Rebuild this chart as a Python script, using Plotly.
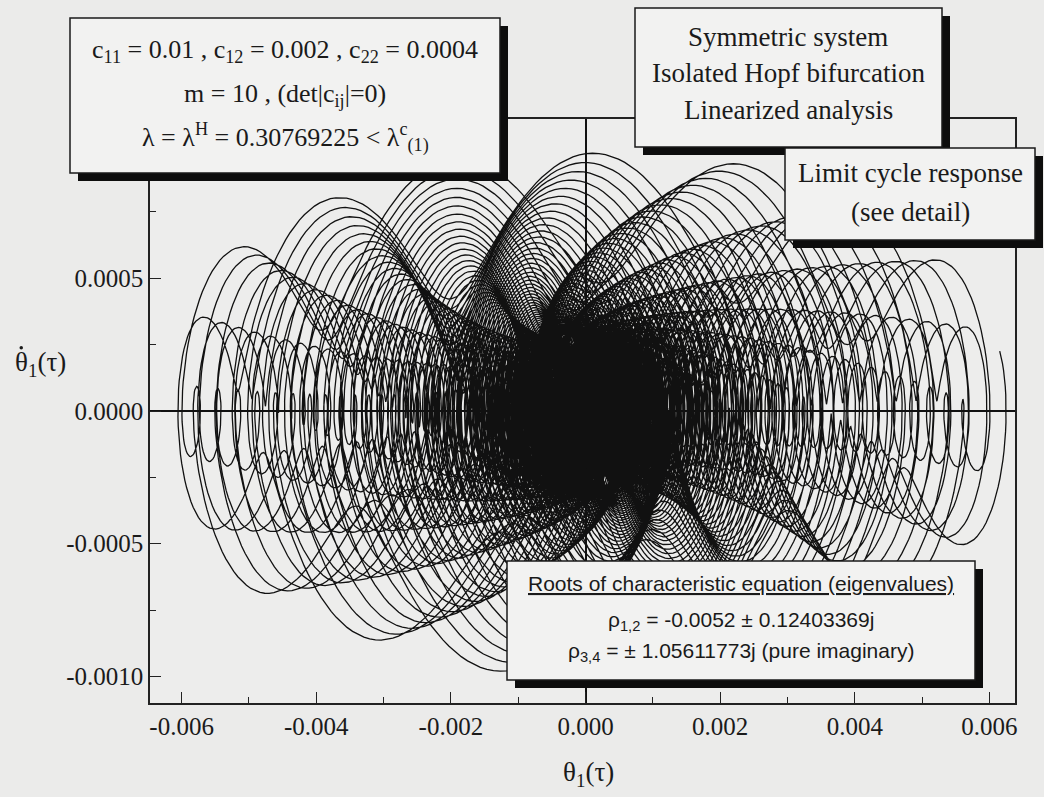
import numpy as np
import plotly.graph_objects as go

# Eigenvalue frequencies of the two modes (imaginary parts of rho_1,2 and rho_3,4)
omega_slow = 0.12403369
omega_fast = 1.05611773
# Envelope of the slow mode and amplitudes of both modes in theta_1
decay_slow = -0.0005
amp_slow = 0.00605
amp_fast = 0.00024
phase_fast = 5.156
t_end = 5400.0

# Axis ticks
x_ticks = [-0.006, -0.004, -0.002, 0.0, 0.002, 0.004, 0.006]
x_tick_text = ["-0.006", "-0.004", "-0.002", "0.000", "0.002", "0.004", "0.006"]
y_ticks = [0.0005, 0.0, -0.0005, -0.0010]
y_tick_text = ["0.0005", "0.0000", "-0.0005", "-0.0010"]

# Linear response: superposition of the damped slow mode and the neutral fast mode
tau = np.arange(0.0, t_end, 0.1)
env = amp_slow * np.exp(decay_slow * tau)
theta = env * np.cos(omega_slow * tau) + amp_fast * np.cos(omega_fast * tau + phase_fast)
theta_dot = (env * (decay_slow * np.cos(omega_slow * tau) - omega_slow * np.sin(omega_slow * tau))
             - amp_fast * omega_fast * np.sin(omega_fast * tau + phase_fast))

W, H = 1044, 797
L, R, T, B = 150, 29, 119, 94
PW, PH = W - L - R, H - T - B


def px(x):
    return (x - L) / PW


def py(y):
    return (H - B - y) / PH


fig = go.Figure()
fig.add_trace(go.Scatter(x=theta, y=theta_dot, mode="lines",
                         line=dict(color="#111111", width=1.3),
                         hoverinfo="skip", showlegend=False))

serif = "Liberation Serif"
sans = "Liberation Sans"
ink = "#1a1a1a"

fig.update_layout(
    width=W, height=H,
    margin=dict(l=L, r=R, t=T, b=B, pad=0),
    paper_bgcolor="#ebebea",
    plot_bgcolor="#ededec",
    showlegend=False,
    font=dict(family=serif, color=ink),
)

axis_common = dict(showgrid=False, showline=True, linecolor="#222", linewidth=1.5,
                   mirror=True, ticks="inside", tickcolor="#222", tickwidth=1.3,
                   ticklen=11, zeroline=True, zerolinecolor="#111", zerolinewidth=1.6,
                   tickfont=dict(family=serif, size=25, color=ink))
fig.update_xaxes(range=[-0.00647, 0.00638], tickvals=x_ticks, ticktext=x_tick_text,
                 minor=dict(dtick=0.001, ticks="inside", ticklen=6, tickcolor="#222", tickwidth=1.2),
                 **axis_common)
fig.update_yaxes(range=[-0.0011, 0.0011], tickvals=y_ticks, ticktext=y_tick_text,
                 minor=dict(dtick=0.00025, ticks="inside", ticklen=6, tickcolor="#222", tickwidth=1.2),
                 **axis_common)

shapes = []
annotations = []


def box(x0, y0, x1, y1, off=8):
    shapes.append(dict(type="rect", xref="paper", yref="paper", layer="above",
                       x0=px(x0 + off), x1=px(x1 + off), y0=py(y1 + off), y1=py(y0 + off),
                       fillcolor="#0d0d0d", line=dict(width=0)))
    shapes.append(dict(type="rect", xref="paper", yref="paper", layer="above",
                       x0=px(x0), x1=px(x1), y0=py(y1), y1=py(y0),
                       fillcolor="#f2f2f1", line=dict(color="#1a1a1a", width=1.5)))


def label(text, cx, cy, size=26, family=serif):
    annotations.append(dict(text=text, x=px(cx), y=py(cy), xref="paper", yref="paper",
                            showarrow=False, xanchor="center", yanchor="middle",
                            font=dict(family=family, size=size, color=ink)))


box(70, 18, 500, 173)
label("c<sub>11</sub> = 0.01 , c<sub>12</sub> = 0.002 , c<sub>22</sub> = 0.0004", 285, 51)
label("m = 10 , (det|c<sub>ij</sub>|=0)", 285, 95)
label("λ = λ<sup>H</sup> = 0.30769225 &lt; λ<sup>c</sup><sub>(1)</sub>", 285, 137)

box(635, 8, 942, 147)
label("Symmetric system", 788, 37, 27)
label("Isolated Hopf bifurcation", 788, 73, 27)
label("Linearized analysis", 788, 110, 27)

box(785, 148, 1035, 240)
label("Limit cycle response", 910, 173, 27)
label("(see detail)", 910, 212, 27)

box(507, 561, 975, 680)
label("<span style='text-decoration:underline'>Roots of characteristic equation (eigenvalues)</span>",
      741, 583, 21, sans)
label("ρ<sub>1,2</sub> = -0.0052 ± 0.12403369j", 741, 621, 21, sans)
label("ρ<sub>3,4</sub> = ± 1.05611773j (pure imaginary)", 741, 652, 21, sans)

# Axis titles; the time-derivative dot over theta is a small filled circle
label("θ<sub>1</sub>(τ)", 40, 364, 27)
shapes.append(dict(type="circle", xref="paper", yref="paper", layer="above",
                   x0=px(19.5), x1=px(23.0), y0=py(349.5), y1=py(346.0),
                   fillcolor=ink, line=dict(width=0)))
label("θ<sub>1</sub>(τ)", 588, 774, 27)

fig.update_layout(shapes=shapes, annotations=annotations)
fig.write_html("out.html")
